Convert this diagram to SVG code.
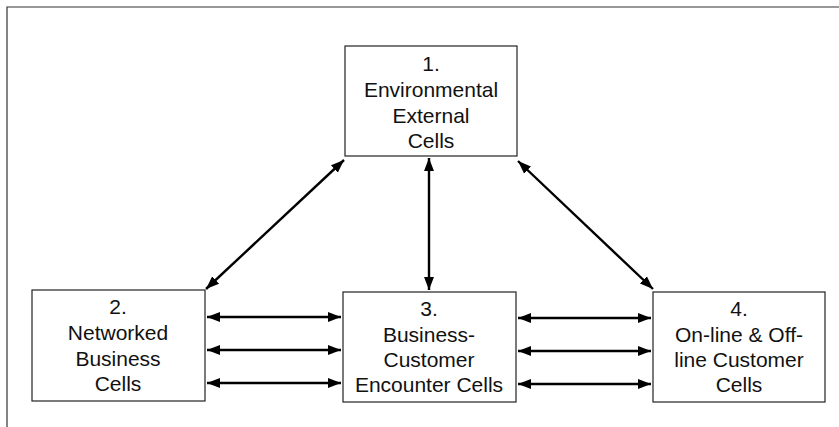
<svg xmlns="http://www.w3.org/2000/svg" width="839" height="427" viewBox="0 0 839 427">
<style>
.box{fill:#fff;stroke:#222;stroke-width:1.2}
.lbl{font-family:"Liberation Sans",Arial,sans-serif;font-size:21px;fill:#111;text-anchor:middle}
.arr{stroke:#000;stroke-width:2.4;fill:none;marker-start:url(#ah);marker-end:url(#ah)}
</style>
<defs>
<marker id="ah" viewBox="0 0 10 10" refX="10" refY="5" markerWidth="5.5" markerHeight="5.5" orient="auto-start-reverse" markerUnits="strokeWidth">
<path d="M0,1.2 L10,5 L0,8.8 Z" fill="#000"/>
</marker>
</defs>
<path d="M7,427 V7 H839" fill="none" stroke="#333" stroke-width="1.2"/>
<g id="connectors">
<line class="arr" x1="344" y1="160" x2="206" y2="289"/>
<line class="arr" x1="429" y1="158" x2="429" y2="290"/>
<line class="arr" x1="518" y1="161" x2="653" y2="289"/>
<line class="arr" x1="207" y1="317" x2="341" y2="317"/>
<line class="arr" x1="207" y1="350" x2="341" y2="350"/>
<line class="arr" x1="207" y1="383" x2="341" y2="383"/>
<line class="arr" x1="518" y1="318" x2="651" y2="318"/>
<line class="arr" x1="518" y1="351" x2="651" y2="351"/>
<line class="arr" x1="518" y1="384" x2="651" y2="384"/>
</g>
<g id="node1">
<rect class="box" x="345" y="46" width="172" height="110"/>
<text class="lbl" x="431" y="71">1.</text>
<text class="lbl" x="431" y="97">Environmental</text>
<text class="lbl" x="431" y="123">External</text>
<text class="lbl" x="431" y="148">Cells</text>
</g>
<g id="node2">
<rect class="box" x="32" y="290" width="173" height="111"/>
<text class="lbl" x="118" y="314">2.</text>
<text class="lbl" x="118" y="340">Networked</text>
<text class="lbl" x="118" y="366">Business</text>
<text class="lbl" x="118" y="391">Cells</text>
</g>
<g id="node3">
<rect class="box" x="343" y="292" width="173" height="110"/>
<text class="lbl" x="429" y="316">3.</text>
<text class="lbl" x="429" y="342">Business-</text>
<text class="lbl" x="429" y="367">Customer</text>
<text class="lbl" x="429" y="392">Encounter Cells</text>
</g>
<g id="node4">
<rect class="box" x="653" y="292" width="172" height="110"/>
<text class="lbl" x="739" y="316">4.</text>
<text class="lbl" x="739" y="342">On-line &amp; Off-</text>
<text class="lbl" x="739" y="367">line Customer</text>
<text class="lbl" x="739" y="392">Cells</text>
</g>
</svg>
